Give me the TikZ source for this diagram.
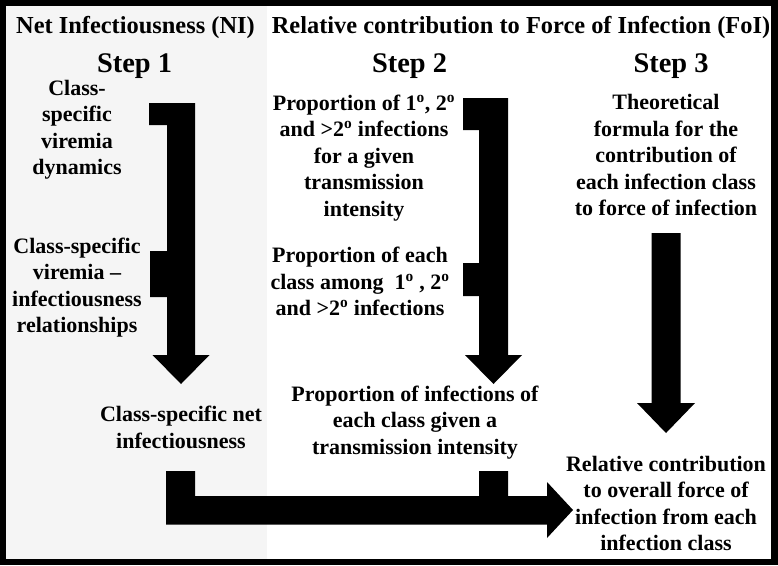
\documentclass[tikz,border=0pt]{standalone}
\usepackage{fontspec}
\setmainfont{Liberation Serif}
\newcommand{\sups}[1]{\textsuperscript{#1}}
\begin{document}
\begin{tikzpicture}[x=1pt,y=-1pt,
  hdr/.style={font=\fontsize{24.4}{29}\selectfont\bfseries, inner sep=0pt, anchor=base},
  stp/.style={font=\fontsize{28.4}{34}\selectfont\bfseries, inner sep=0pt, anchor=base},
  txt/.style={font=\fontsize{22}{26.5}\selectfont\bfseries, align=center, inner sep=0pt, anchor=base},
  arr/.style={fill=black, draw=none}]
\useasboundingbox (0,0) rectangle (778,565);
% frame and panels
\fill[black] (0,0) rectangle (778,565);
\fill[white] (6,5.5) rectangle (770.5,558.5);
\fill[black!4] (6,5.5) rectangle (267,558.5);
% headers
\node[hdr] (hni) at (135.5,33) {Net Infectiousness (NI)};
\node[hdr] (hfoi) at (521,33) {Relative contribution to Force of Infection (FoI)};
\node[stp] (s1) at (134.5,72) {Step 1};
\node[stp] (s2) at (409.5,72) {Step 2};
\node[stp] (s3) at (671,72) {Step 3};
% texts (anchor = baseline of last line)
\node[txt] (vd) at (77,174.5) {Class-\\specific\\viremia\\dynamics};
\node[txt] (vir) at (77,332.5) {Class-specific\\viremia --\\infectiousness\\relationships};
\node[txt] (ni) at (181,448) {Class-specific net\\infectiousness};
\node[txt] (p1) at (364,216) {Proportion of 1\sups{o}, 2\sups{o}\\and >2\sups{o} infections\\for a given\\transmission\\intensity};
\node[txt] (p2) at (360,315.5) {Proportion of each\\class among\ \ 1\sups{o} , 2\sups{o}\\and >2\sups{o} infections};
\node[txt] (p3) at (415,454) {Proportion of infections of\\each class given a\\transmission intensity};
\node[txt] (th) at (666,215.5) {Theoretical\\formula for the\\contribution of\\each infection class\\to force of infection};
\node[txt] (rc) at (666,550.5) {Relative contribution\\to overall force of\\infection from each\\infection class};
% arrows
\fill[arr] (149,103) -- (195,103) -- (195,355) -- (209.5,355) -- (181,384) -- (152.5,355) -- (167,355) -- (167,297) -- (150,297) -- (150,251) -- (167,251) -- (167,125) -- (149,125) -- cycle;
\fill[arr] (463,98) -- (508,98) -- (508,355) -- (522,355) -- (493.5,384) -- (465,355) -- (479,355) -- (479,296) -- (463,296) -- (463,263) -- (479,263) -- (479,130) -- (463,130) -- cycle;
\fill[arr] (651.5,233) -- (680.5,233) -- (680.5,403) -- (695,403) -- (666,433) -- (637,403) -- (651.5,403) -- cycle;
\fill[arr] (166,471) -- (195,471) -- (195,496) -- (479,496) -- (479,471) -- (508,471) -- (508,496) -- (547,496) -- (547,482) -- (573,510) -- (547,538) -- (547,524.5) -- (166,524.5) -- cycle;
\end{tikzpicture}
\end{document}
